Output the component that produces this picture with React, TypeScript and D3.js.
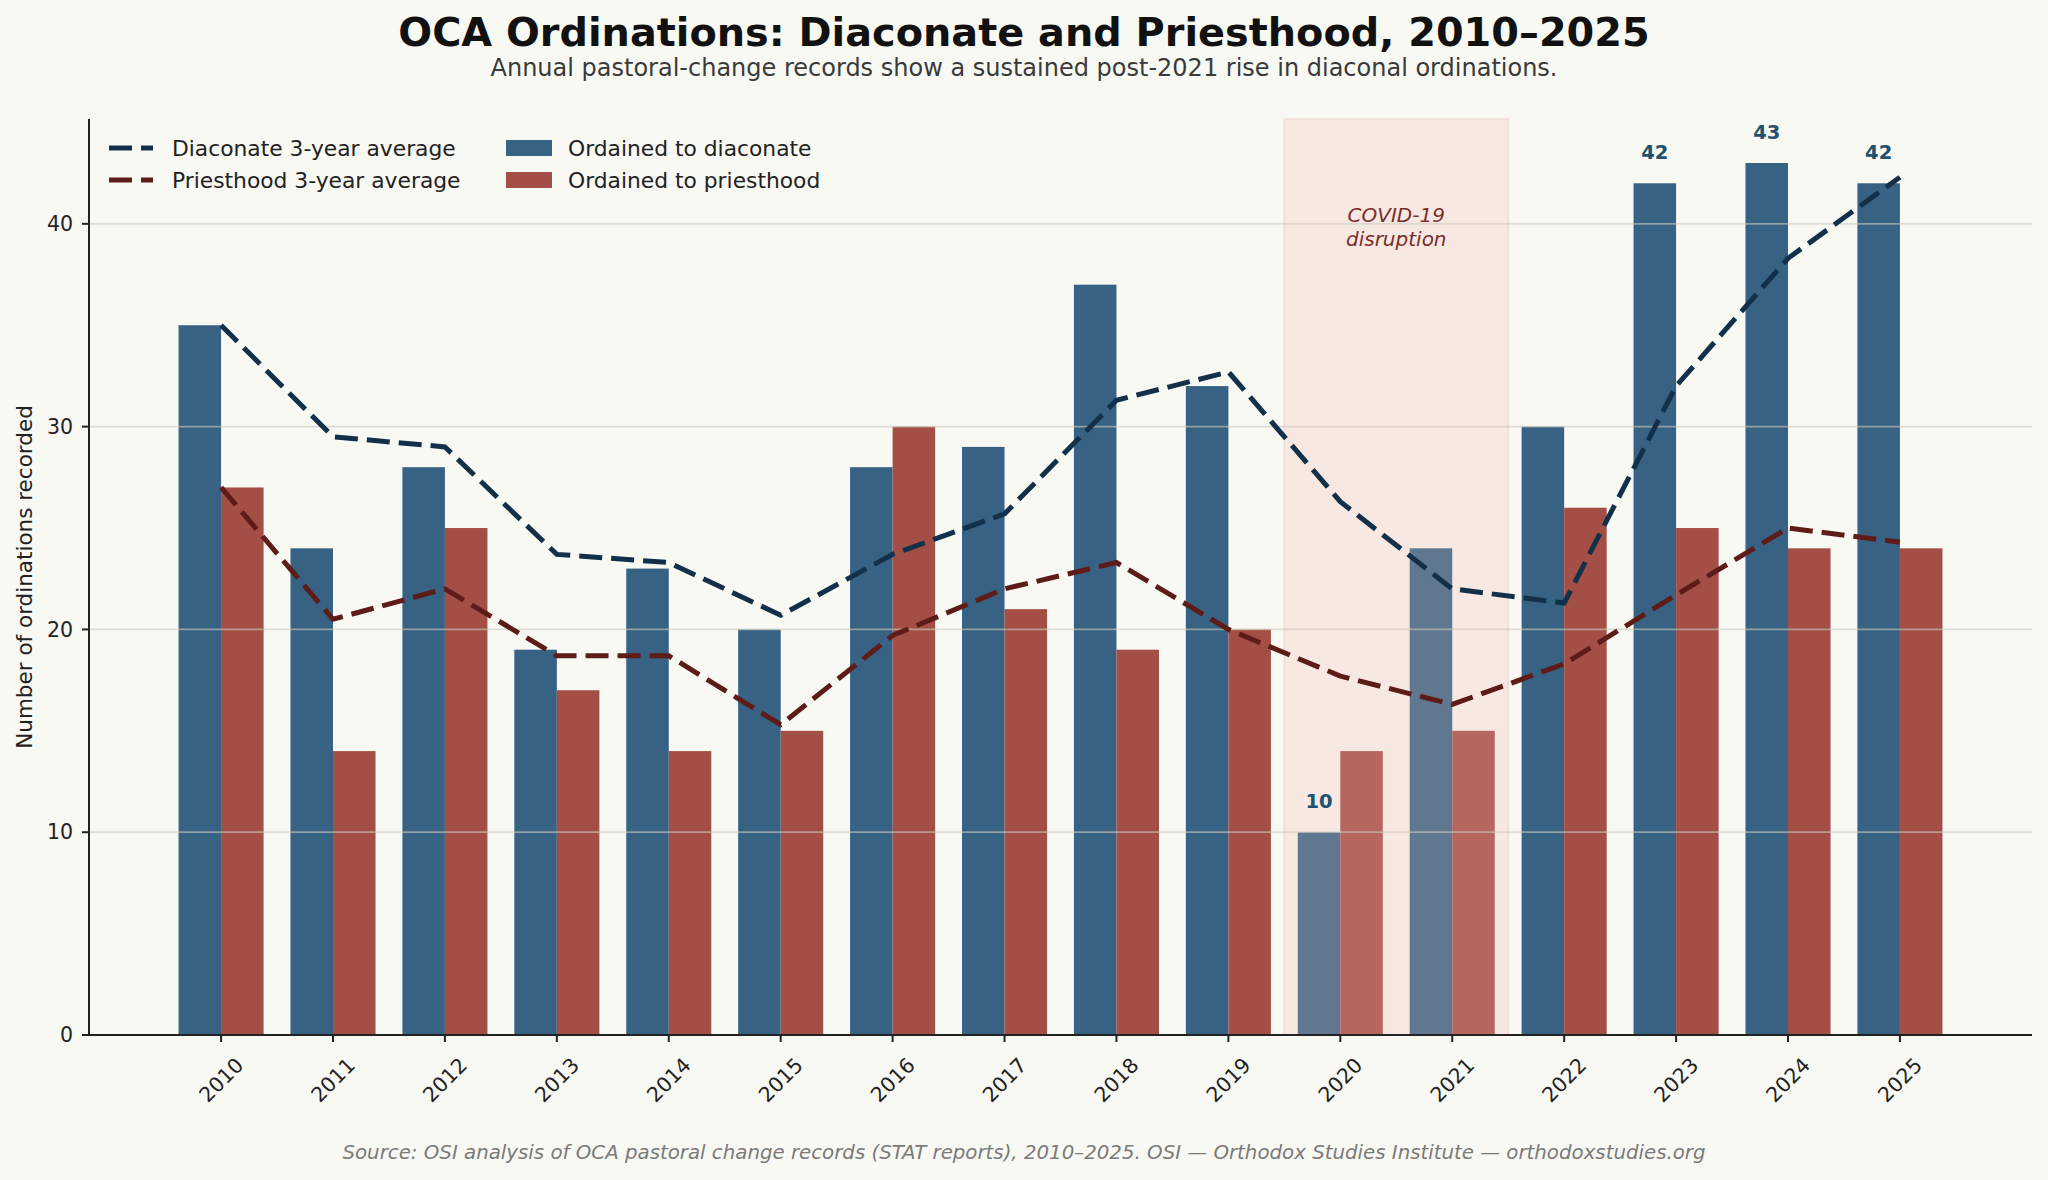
import React from 'react';
import * as d3 from 'd3';

const years = ['2010', '2011', '2012', '2013', '2014', '2015', '2016', '2017', '2018', '2019', '2020', '2021', '2022', '2023', '2024', '2025'];
const diaconate = [35, 24, 28, 19, 23, 20, 28, 29, 37, 32, 10, 24, 30, 42, 43, 42];
const priesthood = [27, 14, 25, 17, 14, 15, 30, 21, 19, 20, 14, 15, 26, 25, 24, 24];
const diaconateAvg = [35, 29.5, 29, 23.7, 23.3, 20.7, 23.7, 25.7, 31.3, 32.7, 26.3, 22, 21.3, 32, 38.3, 42.3];
const priesthoodAvg = [27, 20.5, 22, 18.7, 18.7, 15.3, 19.7, 22, 23.3, 20, 17.7, 16.3, 18.3, 21.7, 25, 24.3];
const covidYears = ['2020', '2021'];
const labelledYears = ['2020', '2023', '2024', '2025'];
const yTicks = [0, 10, 20, 30, 40];

const W = 2048;
const H = 1180;
const plot = { left: 89, right: 2032, top: 119, bottom: 1035 };
const font = '"DejaVu Sans", sans-serif';

const c = {
  bg: '#f9f9f4',
  dia: '#376283',
  pri: '#a44f46',
  diaCovid: '#60788f',
  priCovid: '#b5665f',
  diaLine: '#13304a',
  priLine: '#5e1c18',
  span: '#f7e8e2',
  label: '#22506f',
  axis: '#222222',
};

const App: React.FC = () => {
  const x = d3.scaleLinear().domain([-1.18, years.length - 1 + 1.18]).range([plot.left, plot.right]);
  const y = d3.scaleLinear().domain([0, 45.17]).range([plot.bottom, plot.top]);
  const bw = x(0.38) - x(0);

  const line = d3.line<number>()
    .x((_, i) => x(i))
    .y(d => y(d));

  const isCovid = (yr: string) => covidYears.includes(yr);
  const c0 = years.indexOf(covidYears[0]);
  const c1 = years.indexOf(covidYears[1]);
  const covidMid = x((c0 + c1) / 2);

  return (
    <div style={{ position: 'fixed', left: 0, top: 0 }}>
      <svg width={W} height={H} style={{ display: 'block', fontFamily: font }}>
        <rect width={W} height={H} fill={c.bg} />

        {/* titles */}
        <text x={W / 2} y={46} textAnchor="middle" fontSize={39.8} fontWeight="bold" fill="#111">
          OCA Ordinations: Diaconate and Priesthood, 2010–2025
        </text>
        <text x={W / 2} y={76} textAnchor="middle" fontSize={24} fill="#3a3a3a">
          Annual pastoral-change records show a sustained post-2021 rise in diaconal ordinations.
        </text>

        {/* covid span */}
        <rect
          x={x(c0 - 0.5)}
          y={plot.top}
          width={x(c1 + 0.5) - x(c0 - 0.5)}
          height={plot.bottom - plot.top}
          fill={c.span}
          stroke="#f1dcd5"
          strokeWidth={1.5}
        />
        <text x={covidMid} y={222} textAnchor="middle" fontSize={20} fontStyle="italic" fill="#7a2e2a">
          <tspan x={covidMid} dy={0}>COVID-19</tspan>
          <tspan x={covidMid} dy={24}>disruption</tspan>
        </text>

        {/* bars */}
        {years.map((yr, i) => (
          <g key={yr}>
            <rect x={x(i) - bw} y={y(diaconate[i])} width={bw} height={y(0) - y(diaconate[i])} fill={isCovid(yr) ? c.diaCovid : c.dia} />
            <rect x={x(i)} y={y(priesthood[i])} width={bw} height={y(0) - y(priesthood[i])} fill={isCovid(yr) ? c.priCovid : c.pri} />
          </g>
        ))}

        {/* grid, drawn over bars */}
        {yTicks.filter(t => t > 0).map(t => (
          <line key={t} x1={plot.left} x2={plot.right} y1={y(t)} y2={y(t)} stroke="#c9c9c0" strokeOpacity={0.6} strokeWidth={1.8} />
        ))}

        {/* rolling averages */}
        <path d={line(diaconateAvg) || ''} fill="none" stroke={c.diaLine} strokeWidth={5} strokeDasharray="23 9" />
        <path d={line(priesthoodAvg) || ''} fill="none" stroke={c.priLine} strokeWidth={5} strokeDasharray="23 9" />

        {/* value labels */}
        {labelledYears.map(yr => {
          const i = years.indexOf(yr);
          return (
            <text key={yr} x={x(i) - bw / 2} y={y(diaconate[i]) - 24} textAnchor="middle" fontSize={19.5} fontWeight="bold" fill={c.label}>
              {diaconate[i]}
            </text>
          );
        })}

        {/* axes */}
        <line x1={plot.left} x2={plot.left} y1={plot.top} y2={plot.bottom} stroke={c.axis} strokeWidth={2} />
        <line x1={plot.left} x2={plot.right} y1={plot.bottom} y2={plot.bottom} stroke={c.axis} strokeWidth={2} />
        {yTicks.map(t => (
          <g key={t}>
            <line x1={plot.left - 7} x2={plot.left} y1={y(t)} y2={y(t)} stroke={c.axis} strokeWidth={2} />
            <text x={plot.left - 16} y={y(t)} dy="0.35em" textAnchor="end" fontSize={20.5} fill={c.axis}>{t}</text>
          </g>
        ))}
        {years.map((yr, i) => (
          <g key={yr}>
            <line x1={x(i)} x2={x(i)} y1={plot.bottom} y2={plot.bottom + 7} stroke={c.axis} strokeWidth={2} />
            <text
              transform={`translate(${x(i)},${plot.bottom + 45}) rotate(-45)`}
              textAnchor="middle"
              dy="0.35em"
              fontSize={20.5}
              fill={c.axis}
            >
              {yr}
            </text>
          </g>
        ))}
        <text transform={`translate(24,${(plot.top + plot.bottom) / 2}) rotate(-90)`} textAnchor="middle" dy="0.35em" fontSize={21.5} fill={c.axis}>
          Number of ordinations recorded
        </text>

        {/* legend */}
        <g fontSize={21.8}>
          <line x1={109} x2={153} y1={148} y2={148} stroke={c.diaLine} strokeWidth={5} strokeDasharray="23 9" />
          <text x={172} y={148} dy="0.35em" fill="#222">Diaconate 3-year average</text>
          <line x1={109} x2={153} y1={180} y2={180} stroke={c.priLine} strokeWidth={5} strokeDasharray="23 9" />
          <text x={172} y={180} dy="0.35em" fill="#222">Priesthood 3-year average</text>
          <rect x={506} y={140} width={46} height={16} fill={c.dia} />
          <text x={568} y={148} dy="0.35em" fill="#222">Ordained to diaconate</text>
          <rect x={506} y={172} width={46} height={16} fill={c.pri} />
          <text x={568} y={180} dy="0.35em" fill="#222">Ordained to priesthood</text>
        </g>

        {/* footer */}
        <text x={W / 2} y={1159} textAnchor="middle" fontSize={19.8} fontStyle="italic" fill="#7a7a7a">
          Source: OSI analysis of OCA pastoral change records (STAT reports), 2010–2025. OSI — Orthodox Studies Institute — orthodoxstudies.org
        </text>
      </svg>
    </div>
  );
};

export default App;
